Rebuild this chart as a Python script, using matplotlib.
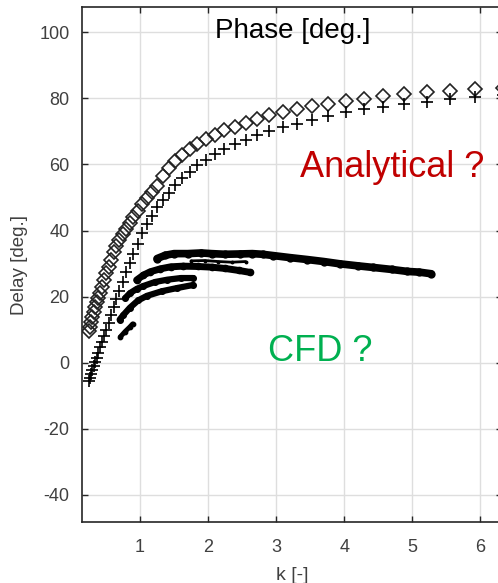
import matplotlib
matplotlib.use("Agg")
from matplotlib import pyplot as plt

plt.rcParams['font.family'] = ['Liberation Sans', 'DejaVu Sans']
plt.rcParams['axes.unicode_minus'] = False

# analytical curves share the same reduced frequencies
k_ana = [0.247, 0.263, 0.281, 0.300, 0.320, 0.341, 0.364, 0.389, 0.415, 0.442,
         0.472, 0.504, 0.537, 0.573, 0.612, 0.653, 0.696, 0.743, 0.793, 0.846,
         0.903, 0.963, 1.03, 1.10, 1.17, 1.25, 1.33, 1.42, 1.52, 1.62,
         1.73, 1.84, 1.97, 2.10, 2.24, 2.39, 2.55, 2.72, 2.90, 3.10,
         3.31, 3.53, 3.76, 4.02, 4.29, 4.57, 4.88, 5.21, 5.56, 5.93, 6.33]
delay_diamond = [9.5, 10.8, 12.3, 13.8, 15.3, 16.8, 18.3, 19.6, 21.2, 23.0,
                 25.0, 27.0, 29.0, 31.2, 33.4, 35.3, 37.0, 38.8, 40.6, 42.4,
                 44.2, 46.0, 47.9, 49.8, 51.6, 53.6, 56.5, 58.8, 61.0, 62.8,
                 64.6, 66.1, 67.6, 69.0, 70.3, 71.5, 72.7, 73.8, 74.9, 75.9,
                 76.8, 77.6, 78.4, 79.2, 79.9, 80.6, 81.3, 81.9, 82.4, 82.8, 83.2]
delay_plus = [-5.5, -4.6, -3.5, -2.3, -1.1, 0.1, 1.5, 3.0, 4.6, 6.2,
              8.0, 9.9, 12.0, 14.3, 16.7, 19.2, 21.8, 24.5, 27.3, 30.1,
              33.0, 36.0, 39.2, 42.0, 44.5, 47.0, 49.2, 51.5, 53.7, 55.8,
              57.8, 59.7, 61.5, 63.1, 64.7, 66.1, 67.5, 68.8, 70.0, 71.2,
              72.3, 73.5, 74.6, 75.8, 76.7, 77.5, 78.3, 79.0, 79.7, 80.4, 81.0]

# CFD results, one list pair per band of points
cfd_k = [
    [1.25, 1.37, 1.50, 1.70, 1.90, 2.05, 2.25, 2.47, 2.65, 2.80, 2.96, 3.20,
     3.46, 3.70, 3.94, 4.20, 4.43, 4.70, 4.93, 5.10, 5.28],
    [1.75, 1.95, 2.15, 2.35, 2.55],
    [0.95, 1.05, 1.15, 1.30, 1.45, 1.63, 1.85, 2.05, 2.25, 2.45, 2.62],
    [0.78, 0.85, 0.95, 1.05, 1.22, 1.40, 1.60, 1.78],
    [0.70, 0.75, 0.85, 0.97, 1.10, 1.32, 1.55, 1.78],
    [0.71, 0.78, 0.85, 0.89],
]
cfd_delay = [
    [31.5, 32.5, 33.0, 33.0, 33.2, 33.0, 32.8, 32.9, 33.0, 32.8, 32.4, 31.8,
     31.2, 30.6, 29.9, 29.3, 28.8, 28.2, 27.6, 27.4, 26.9],
    [30.8, 30.9, 30.6, 30.4, 30.6],
    [25.0, 26.5, 27.5, 28.4, 29.0, 29.2, 29.1, 28.9, 28.5, 27.9, 27.3],
    [19.5, 21.0, 22.3, 23.2, 24.4, 25.1, 25.6, 25.6],
    [13.0, 14.3, 16.6, 18.8, 20.2, 21.6, 22.6, 23.5],
    [7.8, 9.4, 10.8, 11.7],
]
cfd_width = [5.5, 2.0, 5.0, 4.5, 4.5, 3.5]

x_ticks = [1, 2, 3, 4, 5, 6]
y_ticks = [-40, -20, 0, 20, 40, 60, 80, 100]

fig = plt.figure(figsize=(4.98, 5.83), dpi=100)
ax = fig.add_axes([0.1647, 0.1046, 0.8434, 0.8834])

for kk, dd, lw in zip(cfd_k, cfd_delay, cfd_width):
    ax.plot(kk, dd, color="black", lw=lw, solid_capstyle="round",
            solid_joinstyle="round", marker="o", ms=lw * 0.9, zorder=3)

ax.plot(k_ana, delay_diamond, linestyle="none", marker="D", ms=6.8,
        mfc="none", mec="#222222", mew=1.2, zorder=4)
ax.plot(k_ana, delay_plus, linestyle="none", marker="+", ms=8.5,
        color="black", mew=1.2, zorder=4)

ax.set_xlim(0.147, 6.32)
ax.set_ylim(-48.3, 107.7)
ax.set_xticks(x_ticks)
ax.set_yticks(y_ticks)
ax.grid(True, color="#dedede", lw=1.0)
ax.set_axisbelow(True)
ax.tick_params(direction="in", length=4, width=1, top=True, right=True,
               labelsize=13, colors="#262626", labelcolor="#404040")
ax.tick_params(axis="x", pad=12)
ax.tick_params(axis="y", pad=9)
for s in ax.spines.values():
    s.set_color("#262626")
    s.set_linewidth(1.2)

ax.set_xlabel("k [-]", fontsize=14, color="#404040", labelpad=8)
ax.set_ylabel("Delay [deg.]", fontsize=13.5, color="#404040", labelpad=8)

ax.text(3.24, 100.5, "Phase [deg.]", fontsize=20, ha="center", va="center",
        color="black")
ax.text(3.35, 56.1, "Analytical ?", fontsize=26, color="#C00000",
        ha="left", va="baseline")
ax.text(2.88, 0.6, "CFD ?", fontsize=26, color="#00B050",
        ha="left", va="baseline")

fig.savefig("out.png", dpi=100)
